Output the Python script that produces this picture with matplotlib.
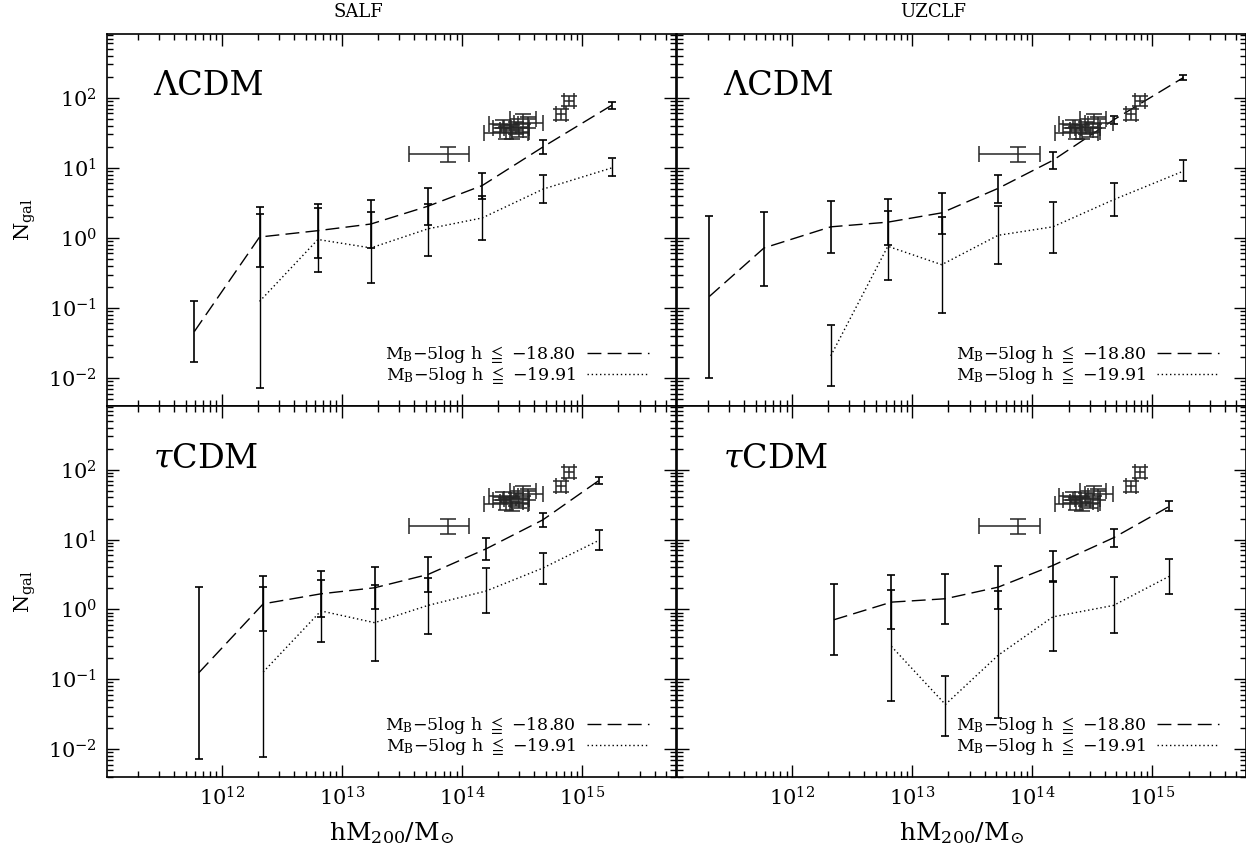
import numpy as np
import matplotlib
matplotlib.use("Agg")
import matplotlib.pyplot as plt
from matplotlib.ticker import LogLocator, LogFormatterMathtext, NullFormatter

plt.rcParams['font.family'] = ['DejaVu Serif', 'DejaVu Sans']
plt.rcParams['mathtext.fontset'] = 'dejavuserif'
plt.rcParams['mathtext.fallback'] = 'stix'

# ---------------- data ----------------
col_titles = ["SALF", "UZCLF"]
row_labels = ["ΛCDM", r"$\tau$CDM"]
legend_labels = ["M$_{\\rm B}$\u22125log h $\\leqq$ \u221218.80",
                 "M$_{\\rm B}$\u22125log h $\\leqq$ \u221219.91"]

# SALF, LambdaCDM
lc_salf_mass = [5.9e11, 2.06e12, 6.3e12, 1.74e13, 5.2e13, 1.47e14, 4.75e14, 1.76e15]
lc_salf_dash = [0.046, 1.03, 1.27, 1.58, 2.84, 5.6, 20.1, 78.5]
lc_salf_dash_lo = [0.017, 0.38, 0.52, 0.71, 1.53, 3.6, 15.6, 70]
lc_salf_dash_hi = [0.124, 2.78, 3.1, 3.5, 5.1, 8.5, 24.8, 87.7]
lc_salf_dot_mass = [2.06e12, 6.3e12, 1.74e13, 5.2e13, 1.47e14, 4.75e14, 1.76e15]
lc_salf_dot = [0.124, 0.95, 0.72, 1.35, 1.93, 5.0, 10.0]
lc_salf_dot_lo = [0.0071, 0.33, 0.227, 0.55, 0.92, 3.2, 7.55]
lc_salf_dot_hi = [2.2, 2.66, 2.38, 3.1, 4.0, 7.9, 14]

# UZCLF, LambdaCDM
lc_uzc_mass = [2.05e11, 5.85e11, 2.1e12, 6.27e12, 1.76e13, 5.19e13, 1.48e14, 4.79e14, 1.81e15]
lc_uzc_dash = [0.146, 0.72, 1.44, 1.68, 2.28, 5.1, 12.8, 49, 195]
lc_uzc_dash_lo = [0.01, 0.207, 0.61, 0.78, 1.14, 3.2, 9.7, 42, 179]
lc_uzc_dash_hi = [2.04, 2.33, 3.35, 3.6, 4.4, 8.0, 16.9, 55.8, 211]
lc_uzc_dot_mass = [2.1e12, 6.27e12, 1.76e13, 5.19e13, 1.48e14, 4.79e14, 1.81e15]
lc_uzc_dot = [0.0207, 0.76, 0.415, 1.09, 1.44, 3.54, 9.0]
lc_uzc_dot_lo = [0.0077, 0.25, 0.086, 0.42, 0.61, 2.04, 6.6]
lc_uzc_dot_hi = [0.057, 2.4, 2.0, 2.9, 3.3, 6.0, 12.9]

# SALF, tauCDM
tc_salf_mass = [6.44e11, 2.21e12, 6.68e12, 1.87e13, 5.2e13, 1.58e14, 4.69e14, 1.37e15]
tc_salf_dash = [0.124, 1.2, 1.67, 2.04, 3.16, 7.35, 19.1, 69.7]
tc_salf_dash_lo = [0.0072, 0.485, 0.78, 1.0, 1.8, 5.1, 15.3, 62.4]
tc_salf_dash_hi = [2.08, 3.0, 3.6, 4.0, 5.6, 10.6, 23.8, 79.5]
tc_salf_dot_mass = [2.21e12, 6.68e12, 1.87e13, 5.2e13, 1.58e14, 4.69e14, 1.37e15]
tc_salf_dot = [0.127, 0.95, 0.645, 1.14, 1.83, 3.9, 9.7]
tc_salf_dot_lo = [0.0076, 0.34, 0.183, 0.44, 0.89, 2.33, 7.1]
tc_salf_dot_hi = [2.08, 2.6, 2.2, 2.8, 3.9, 6.4, 13.7]

# UZCLF, tauCDM
tc_uzc_mass = [2.23e12, 6.71e12, 1.89e13, 5.19e13, 1.48e14, 4.74e14, 1.37e15]
tc_uzc_dash = [0.71, 1.27, 1.42, 2.08, 4.25, 10.6, 29.6]
tc_uzc_dash_lo = [0.22, 0.52, 0.61, 1.02, 2.46, 7.8, 26]
tc_uzc_dash_hi = [2.33, 3.06, 3.2, 4.16, 6.8, 14.2, 35.3]
tc_uzc_dot_mass = [6.71e12, 1.89e13, 5.19e13, 1.48e14, 4.74e14, 1.37e15]
tc_uzc_dot = [0.296, 0.0435, 0.22, 0.78, 1.14, 2.96]
tc_uzc_dot_lo = [0.049, 0.0153, 0.028, 0.25, 0.46, 1.67]
tc_uzc_dot_hi = [1.87, 0.112, 1.83, 2.54, 2.9, 5.3]

# observed groups/clusters (same in every panel)
obs_mass = [7.6e13, 2.32e14, 2.18e14, 2.11e14, 2.81e14, 3.24e14, 3.52e14, 2.61e14, 3.0e14, 6.65e14, 7.8e14]
obs_mass_lo = [3.6e13, 1.53e14, 1.67e14, 1.8e14, 2.25e14, 2.48e14, 2.72e14, 2.05e14, 2.48e14, 6.0e14, 7.1e14]
obs_mass_hi = [1.15e14, 3.52e14, 2.9e14, 2.56e14, 3.63e14, 4.12e14, 4.68e14, 3.19e14, 3.63e14, 7.3e14, 8.6e14]
obs_n = [15.7, 31.9, 42.5, 36.9, 37.7, 49.6, 44.4, 34.9, 33, 58.5, 91.6]
obs_n_lo = [12.2, 26.2, 36.9, 33, 30.6, 42.5, 36.9, 25.7, 28, 48.5, 77]
obs_n_hi = [19.8, 38.9, 48.5, 41.1, 45.8, 59, 53, 41.1, 38.9, 68.9, 108]

panels = [
    [(lc_salf_mass, lc_salf_dash, lc_salf_dash_lo, lc_salf_dash_hi,
      lc_salf_dot_mass, lc_salf_dot, lc_salf_dot_lo, lc_salf_dot_hi),
     (lc_uzc_mass, lc_uzc_dash, lc_uzc_dash_lo, lc_uzc_dash_hi,
      lc_uzc_dot_mass, lc_uzc_dot, lc_uzc_dot_lo, lc_uzc_dot_hi)],
    [(tc_salf_mass, tc_salf_dash, tc_salf_dash_lo, tc_salf_dash_hi,
      tc_salf_dot_mass, tc_salf_dot, tc_salf_dot_lo, tc_salf_dot_hi),
     (tc_uzc_mass, tc_uzc_dash, tc_uzc_dash_lo, tc_uzc_dash_hi,
      tc_uzc_dot_mass, tc_uzc_dot, tc_uzc_dot_lo, tc_uzc_dot_hi)],
]

# ---------------- figure ----------------
W, H = 1246, 851
fig = plt.figure(figsize=(W / 100, H / 100), dpi=100)

xl = [106.5, 676.7]
pw = 569.5
yt = [34, 406]
ph = [372, 371]
title_x = [358, 933]

for r in range(2):
    for c in range(2):
        ax = fig.add_axes([xl[c] / W, 1 - (yt[r] + ph[r]) / H, pw / W, ph[r] / H])
        m, d, dlo, dhi, dm, o, olo, ohi = panels[r][c]
        m = np.array(m); d = np.array(d)
        dlo = np.array(dlo); dhi = np.array(dhi)
        dm = np.array(dm); o = np.array(o)
        olo = np.array(olo); ohi = np.array(ohi)

        l1, = ax.plot(m, d, color='k', lw=1.0, dashes=(10, 4.5))
        l2, = ax.plot(dm, o, color='k', lw=1.0, linestyle=(0, (1, 2)))
        ax.errorbar(m, d, yerr=[d - dlo, dhi - d], fmt='none', ecolor='k',
                    elinewidth=1.2, capsize=3, capthick=1.2)
        ax.errorbar(dm, o, yerr=[o - olo, ohi - o], fmt='none', ecolor='k',
                    elinewidth=1.0, capsize=3, capthick=1.2)

        om = np.array(obs_mass); on = np.array(obs_n)
        ax.errorbar(om, on,
                    xerr=[om - np.array(obs_mass_lo), np.array(obs_mass_hi) - om],
                    yerr=[on - np.array(obs_n_lo), np.array(obs_n_hi) - on],
                    fmt='none', ecolor='#262626', elinewidth=1.1, capsize=5.5, capthick=1.1)

        ax.set_xscale('log'); ax.set_yscale('log')
        ax.set_xlim(10 ** 11.04, 10 ** 15.78)
        ax.set_ylim(10 ** -2.4, 10 ** 2.912)

        ax.xaxis.set_major_locator(LogLocator(base=10, numticks=20))
        ax.xaxis.set_minor_locator(LogLocator(base=10, subs=np.arange(2, 10), numticks=20))
        ax.yaxis.set_major_locator(LogLocator(base=10, numticks=20))
        ax.yaxis.set_minor_locator(LogLocator(base=10, subs=np.arange(2, 10), numticks=20))
        ax.xaxis.set_major_formatter(LogFormatterMathtext())
        ax.yaxis.set_major_formatter(LogFormatterMathtext())
        ax.xaxis.set_minor_formatter(NullFormatter())
        ax.yaxis.set_minor_formatter(NullFormatter())
        ax.tick_params(which='both', direction='in', top=True, right=True, width=1.0)
        ax.tick_params(which='major', length=8.5, labelsize=15, pad=7)
        ax.tick_params(which='minor', length=4)
        for s in ax.spines.values():
            s.set_linewidth(1.2)

        if r == 0:
            ax.tick_params(labelbottom=False)
            fig.text(title_x[c] / W, 1 - 12 / H, col_titles[c], fontsize=13,
                     ha='center', va='center')
        else:
            ax.set_xlabel(r"hM$_{200}$/M$_{\odot}$", fontsize=18, labelpad=7)
        if c == 1:
            ax.tick_params(labelleft=False)
        else:
            ax.set_ylabel(r"N$_{\rm gal}$", fontsize=15, labelpad=7)

        ax.text(0.082, 0.835, row_labels[r], transform=ax.transAxes,
                fontsize=24, va='baseline', ha='left')

        ax.legend([l1, l2], legend_labels, loc='lower right', frameon=False,
                  markerfirst=False, handlelength=3.6, fontsize=12.5,
                  labelspacing=0.0, handletextpad=0.6,
                  bbox_to_anchor=(0.965, 0.035), borderaxespad=0)

fig.savefig("out.png", dpi=100)
